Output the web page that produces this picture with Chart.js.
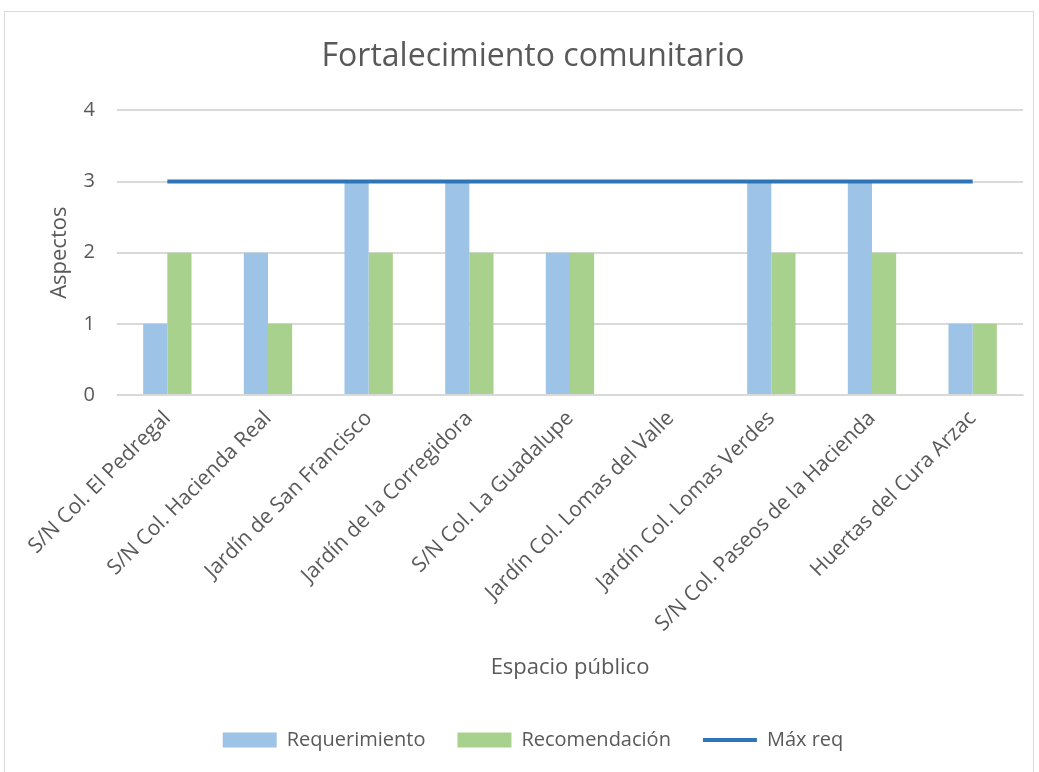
<!DOCTYPE html>
<html>
<head>
<meta charset="utf-8">
<script src="https://cdn.jsdelivr.net/npm/chart.js@4.4.0/dist/chart.umd.min.js"></script>
<style>
    html, body { margin: 0; padding: 0; background: #fff; }
    #wrap { position: absolute; left: 0; top: 0; width: 1039px; height: 772px; }
    #frame { position: absolute; left: 4px; top: 11px; width: 1030px; height: 770px; border: 1px solid #d9d9d9; box-sizing: border-box; }
</style>
</head>
<body>
<div id="wrap">
    <div id="frame"></div>
    <canvas id="chart" width="1039" height="772"></canvas>
</div>
<script>
// Datos del gráfico
const categories = [
    'S/N Col. El Pedregal',
    'S/N Col. Hacienda Real',
    'Jardín de San Francisco',
    'Jardín de la Corregidora',
    'S/N Col. La Guadalupe',
    'Jardín Col. Lomas del Valle',
    'Jardín Col. Lomas Verdes',
    'S/N Col. Paseos de la Hacienda',
    'Huertas del Cura Arzac'
];
const requerimiento = [1, 2, 3, 3, 2, 0, 3, 3, 1];
const recomendacion = [2, 1, 2, 2, 2, 0, 2, 2, 1];
const maxReq = [3, 3, 3, 3, 3, 3, 3, 3, 3];
const yTicks = [0, 1, 2, 3, 4];

const textColor = '#595959';
const fontFamily = "'Open Sans', 'Liberation Sans', sans-serif";

const ctx = document.getElementById('chart').getContext('2d');

new Chart(ctx, {
    type: 'bar',
    data: {
        labels: categories,
        datasets: [
            {
                label: 'Requerimiento',
                data: requerimiento,
                backgroundColor: '#9DC3E6',
                borderWidth: 0,
                pointStyle: 'rect',
                order: 2
            },
            {
                label: 'Recomendación',
                data: recomendacion,
                backgroundColor: '#A9D18E',
                borderWidth: 0,
                pointStyle: 'rect',
                order: 2
            },
            {
                type: 'line',
                label: 'Máx req',
                data: maxReq,
                borderColor: '#2E75B6',
                backgroundColor: '#2E75B6',
                borderWidth: 4,
                pointRadius: 0,
                pointStyle: 'line',
                order: 1
            }
        ]
    },
    options: {
        responsive: false,
        animation: false,
        layout: { padding: { left: 43, right: 16, top: 0, bottom: 12 } },
        datasets: {
            bar: { categoryPercentage: 0.48, barPercentage: 1 }
        },
        plugins: {
            title: {
                display: true,
                text: 'Fortalecimiento comunitario',
                color: textColor,
                font: { size: 32, family: fontFamily, weight: 'normal' },
                padding: { top: 38, bottom: 34 }
            },
            legend: {
                position: 'bottom',
                labels: {
                    color: textColor,
                    font: { size: 20, family: fontFamily },
                    usePointStyle: true,
                    pointStyleWidth: 54,
                    boxHeight: 15,
                    padding: 32,
                    sort: (a, b) => a.datasetIndex - b.datasetIndex
                }
            },
            tooltip: { enabled: false }
        },
        scales: {
            x: {
                grid: { display: false },
                border: { color: '#d9d9d9' },
                ticks: {
                    color: textColor,
                    font: { size: 21, family: fontFamily },
                    minRotation: 45,
                    maxRotation: 45,
                    autoSkip: false
                },
                title: {
                    display: true,
                    text: 'Espacio público',
                    color: textColor,
                    font: { size: 22, family: fontFamily },
                    padding: { top: 4, bottom: 17 }
                },
                afterFit: function (scale) { scale.height = 303; }
            },
            y: {
                min: 0,
                max: 4,
                afterBuildTicks: function (scale) {
                    scale.ticks = yTicks.map(v => ({ value: v }));
                },
                grid: { color: '#d9d9d9', lineWidth: 2, drawTicks: false },
                border: { display: false },
                ticks: {
                    color: textColor,
                    font: { size: 20, family: fontFamily },
                    padding: 22
                },
                title: {
                    display: true,
                    text: 'Aspectos',
                    color: textColor,
                    font: { size: 22, family: fontFamily }
                },
                afterFit: function (scale) { scale.width = 74; }
            }
        }
    }
});
</script>
</body>
</html>
